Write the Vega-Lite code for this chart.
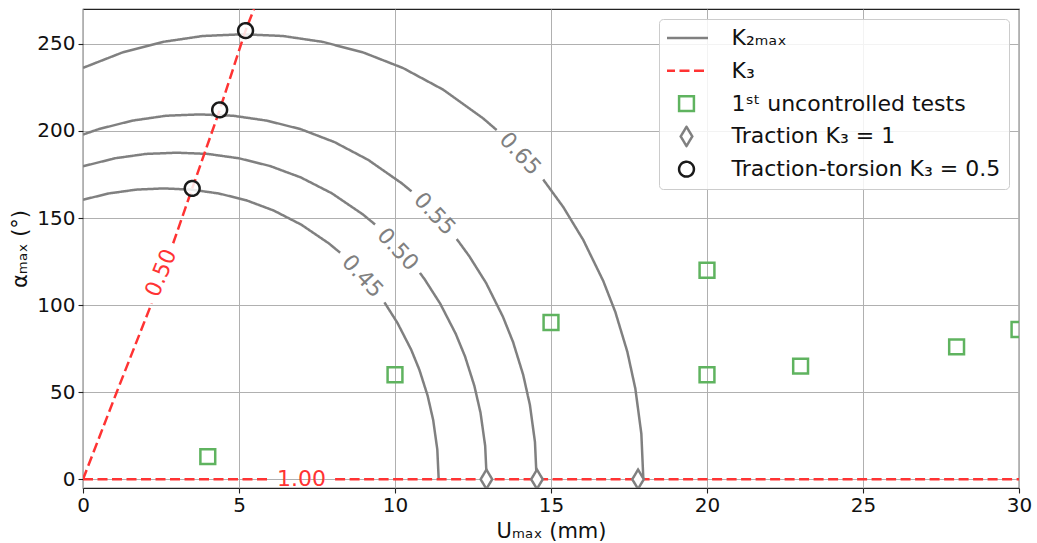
{
  "$schema": "https://vega.github.io/schema/vega-lite/v6.json",
  "width": 936,
  "height": 479,
  "autosize": {"type": "none"},
  "padding": {"left": 83, "top": 9, "right": 18, "bottom": 55},
  "background": "white",
  "config": {
    "font": "DejaVu Sans",
    "view": {"stroke": "#222222", "strokeWidth": 1.2},
    "axis": {
      "domain": false, "grid": true, "gridColor": "#b0b0b0", "gridWidth": 1,
      "tickColor": "#222222", "tickSize": 5, "tickWidth": 1.1,
      "labelFont": "DejaVu Sans", "labelFontSize": 20, "labelColor": "#111111",
      "titleFont": "DejaVu Sans", "titleFontSize": 21, "titleFontWeight": "normal", "titleColor": "#111111"
    },
    "legend": {
      "orient": "top-right", "offset": 10, "padding": 8,
      "labelFont": "DejaVu Sans", "labelFontSize": 22, "labelColor": "#111111", "labelLimit": 500,
      "symbolSize": 220, "symbolStrokeWidth": 2.5, "rowPadding": 10.8, "clipHeight": 22,
      "symbolOffset": 8.5, "labelOffset": 34,
      "fillColor": "rgba(255,255,255,0.85)", "strokeColor": "#cccccc", "cornerRadius": 4
    }
  },
  "datasets": {
    "k2": [
      {"series": "K₂ₘₐₓ", "seg": "0.45a", "U": 0, "a": 160.5},
      {"series": "K₂ₘₐₓ", "seg": "0.45a", "U": 0.824, "a": 164.1},
      {"series": "K₂ₘₐₓ", "seg": "0.45a", "U": 1.706, "a": 166.3},
      {"series": "K₂ₘₐₓ", "seg": "0.45a", "U": 2.587, "a": 167},
      {"series": "K₂ₘₐₓ", "seg": "0.45a", "U": 3.468, "a": 166.3},
      {"series": "K₂ₘₐₓ", "seg": "0.45a", "U": 4.35, "a": 164.1},
      {"series": "K₂ₘₐₓ", "seg": "0.45a", "U": 5.231, "a": 160.2},
      {"series": "K₂ₘₐₓ", "seg": "0.45a", "U": 6.112, "a": 154.3},
      {"series": "K₂ₘₐₓ", "seg": "0.45a", "U": 6.994, "a": 146.2},
      {"series": "K₂ₘₐₓ", "seg": "0.45a", "U": 7.875, "a": 135.5},
      {"series": "K₂ₘₐₓ", "seg": "0.45a", "U": 8.24, "a": 130.1},
      {"series": "K₂ₘₐₓ", "seg": "0.45b", "U": 9.66, "a": 101.6},
      {"series": "K₂ₘₐₓ", "seg": "0.45b", "U": 10.078, "a": 89.8},
      {"series": "K₂ₘₐₓ", "seg": "0.45b", "U": 10.519, "a": 74.4},
      {"series": "K₂ₘₐₓ", "seg": "0.45b", "U": 10.783, "a": 62.8},
      {"series": "K₂ₘₐₓ", "seg": "0.45b", "U": 11.047, "a": 47.9},
      {"series": "K₂ₘₐₓ", "seg": "0.45b", "U": 11.224, "a": 34.0},
      {"series": "K₂ₘₐₓ", "seg": "0.45b", "U": 11.356, "a": 17.1},
      {"series": "K₂ₘₐₓ", "seg": "0.45b", "U": 11.4, "a": 0},
      {"series": "K₂ₘₐₓ", "seg": "0.50a", "U": 0, "a": 179.7},
      {"series": "K₂ₘₐₓ", "seg": "0.50a", "U": 1.023, "a": 184.3},
      {"series": "K₂ₘₐₓ", "seg": "0.50a", "U": 2.016, "a": 186.8},
      {"series": "K₂ₘₐₓ", "seg": "0.50a", "U": 3.009, "a": 187.5},
      {"series": "K₂ₘₐₓ", "seg": "0.50a", "U": 4.002, "a": 186.8},
      {"series": "K₂ₘₐₓ", "seg": "0.50a", "U": 4.995, "a": 184.3},
      {"series": "K₂ₘₐₓ", "seg": "0.50a", "U": 5.988, "a": 179.9},
      {"series": "K₂ₘₐₓ", "seg": "0.50a", "U": 6.981, "a": 173.3},
      {"series": "K₂ₘₐₓ", "seg": "0.50a", "U": 7.975, "a": 164.2},
      {"series": "K₂ₘₐₓ", "seg": "0.50a", "U": 8.968, "a": 152.1},
      {"series": "K₂ₘₐₓ", "seg": "0.50a", "U": 9.36, "a": 146.3},
      {"series": "K₂ₘₐₓ", "seg": "0.50b", "U": 10.8, "a": 118.5},
      {"series": "K₂ₘₐₓ", "seg": "0.50b", "U": 10.954, "a": 114.7},
      {"series": "K₂ₘₐₓ", "seg": "0.50b", "U": 11.45, "a": 100.8},
      {"series": "K₂ₘₐₓ", "seg": "0.50b", "U": 11.947, "a": 83.5},
      {"series": "K₂ₘₐₓ", "seg": "0.50b", "U": 12.245, "a": 70.5},
      {"series": "K₂ₘₐₓ", "seg": "0.50b", "U": 12.543, "a": 53.7},
      {"series": "K₂ₘₐₓ", "seg": "0.50b", "U": 12.741, "a": 38.2},
      {"series": "K₂ₘₐₓ", "seg": "0.50b", "U": 12.89, "a": 19.2},
      {"series": "K₂ₘₐₓ", "seg": "0.50b", "U": 12.94, "a": 0},
      {"series": "K₂ₘₐₓ", "seg": "0.55a", "U": 0, "a": 197.9},
      {"series": "K₂ₘₐₓ", "seg": "0.55a", "U": 0.497, "a": 201.0},
      {"series": "K₂ₘₐₓ", "seg": "0.55a", "U": 1.578, "a": 205.9},
      {"series": "K₂ₘₐₓ", "seg": "0.55a", "U": 2.658, "a": 208.7},
      {"series": "K₂ₘₐₓ", "seg": "0.55a", "U": 3.738, "a": 209.5},
      {"series": "K₂ₘₐₓ", "seg": "0.55a", "U": 4.818, "a": 208.7},
      {"series": "K₂ₘₐₓ", "seg": "0.55a", "U": 5.898, "a": 205.9},
      {"series": "K₂ₘₐₓ", "seg": "0.55a", "U": 6.979, "a": 201.0},
      {"series": "K₂ₘₐₓ", "seg": "0.55a", "U": 8.059, "a": 193.6},
      {"series": "K₂ₘₐₓ", "seg": "0.55a", "U": 9.139, "a": 183.4},
      {"series": "K₂ₘₐₓ", "seg": "0.55a", "U": 10.219, "a": 169.9},
      {"series": "K₂ₘₐₓ", "seg": "0.55a", "U": 10.53, "a": 165.3},
      {"series": "K₂ₘₐₓ", "seg": "0.55b", "U": 11.98, "a": 137.9},
      {"series": "K₂ₘₐₓ", "seg": "0.55b", "U": 12.38, "a": 128.1},
      {"series": "K₂ₘₐₓ", "seg": "0.55b", "U": 12.92, "a": 112.7},
      {"series": "K₂ₘₐₓ", "seg": "0.55b", "U": 13.46, "a": 93.3},
      {"series": "K₂ₘₐₓ", "seg": "0.55b", "U": 13.784, "a": 78.8},
      {"series": "K₂ₘₐₓ", "seg": "0.55b", "U": 14.108, "a": 60.0},
      {"series": "K₂ₘₐₓ", "seg": "0.55b", "U": 14.324, "a": 42.7},
      {"series": "K₂ₘₐₓ", "seg": "0.55b", "U": 14.486, "a": 21.4},
      {"series": "K₂ₘₐₓ", "seg": "0.55b", "U": 14.54, "a": 0},
      {"series": "K₂ₘₐₓ", "seg": "0.65a", "U": 0, "a": 236.2},
      {"series": "K₂ₘₐₓ", "seg": "0.65a", "U": 1.272, "a": 245.1},
      {"series": "K₂ₘₐₓ", "seg": "0.65a", "U": 2.556, "a": 251.1},
      {"series": "K₂ₘₐₓ", "seg": "0.65a", "U": 3.839, "a": 254.5},
      {"series": "K₂ₘₐₓ", "seg": "0.65a", "U": 5.123, "a": 255.5},
      {"series": "K₂ₘₐₓ", "seg": "0.65a", "U": 6.407, "a": 254.5},
      {"series": "K₂ₘₐₓ", "seg": "0.65a", "U": 7.69, "a": 251.1},
      {"series": "K₂ₘₐₓ", "seg": "0.65a", "U": 8.974, "a": 245.1},
      {"series": "K₂ₘₐₓ", "seg": "0.65a", "U": 10.258, "a": 236.1},
      {"series": "K₂ₘₐₓ", "seg": "0.65a", "U": 11.542, "a": 223.7},
      {"series": "K₂ₘₐₓ", "seg": "0.65a", "U": 12.825, "a": 207.2},
      {"series": "K₂ₘₐₓ", "seg": "0.65a", "U": 13.26, "a": 200.5},
      {"series": "K₂ₘₐₓ", "seg": "0.65b", "U": 14.75, "a": 172.1},
      {"series": "K₂ₘₐₓ", "seg": "0.65b", "U": 15.393, "a": 156.3},
      {"series": "K₂ₘₐₓ", "seg": "0.65b", "U": 16.034, "a": 137.4},
      {"series": "K₂ₘₐₓ", "seg": "0.65b", "U": 16.676, "a": 113.8},
      {"series": "K₂ₘₐₓ", "seg": "0.65b", "U": 17.061, "a": 96.1},
      {"series": "K₂ₘₐₓ", "seg": "0.65b", "U": 17.447, "a": 73.2},
      {"series": "K₂ₘₐₓ", "seg": "0.65b", "U": 17.703, "a": 52.1},
      {"series": "K₂ₘₐₓ", "seg": "0.65b", "U": 17.896, "a": 26.1},
      {"series": "K₂ₘₐₓ", "seg": "0.65b", "U": 17.96, "a": 0}
    ],
    "k3": [
      {"series": "K₃", "seg": "r50a", "U": 0, "a": 0},
      {"series": "K₃", "seg": "r50a", "U": 1.08, "a": 50},
      {"series": "K₃", "seg": "r50a", "U": 2.2, "a": 101},
      {"series": "K₃", "seg": "r50b", "U": 2.89, "a": 135.5},
      {"series": "K₃", "seg": "r50b", "U": 3.5, "a": 167},
      {"series": "K₃", "seg": "r50b", "U": 4.38, "a": 212},
      {"series": "K₃", "seg": "r50b", "U": 5.21, "a": 257.6},
      {"series": "K₃", "seg": "r50b", "U": 5.48, "a": 270},
      {"series": "K₃", "seg": "r100a", "U": 0, "a": 0},
      {"series": "K₃", "seg": "r100a", "U": 5.94, "a": 0},
      {"series": "K₃", "seg": "r100b", "U": 8.08, "a": 0},
      {"series": "K₃", "seg": "r100b", "U": 30, "a": 0}
    ],
    "sq": [
      {"series": "1ˢᵗ uncontrolled tests", "U": 4, "a": 13},
      {"series": "1ˢᵗ uncontrolled tests", "U": 10, "a": 60},
      {"series": "1ˢᵗ uncontrolled tests", "U": 15, "a": 90},
      {"series": "1ˢᵗ uncontrolled tests", "U": 20, "a": 120},
      {"series": "1ˢᵗ uncontrolled tests", "U": 20, "a": 60},
      {"series": "1ˢᵗ uncontrolled tests", "U": 23, "a": 65},
      {"series": "1ˢᵗ uncontrolled tests", "U": 28, "a": 76},
      {"series": "1ˢᵗ uncontrolled tests", "U": 30, "a": 86}
    ],
    "dia": [
      {"series": "Traction K₃ = 1", "U": 12.93, "a": 0},
      {"series": "Traction K₃ = 1", "U": 14.55, "a": 0},
      {"series": "Traction K₃ = 1", "U": 17.79, "a": 0}
    ],
    "circ": [
      {"series": "Traction-torsion K₃ = 0.5", "U": 3.5, "a": 167},
      {"series": "Traction-torsion K₃ = 0.5", "U": 4.38, "a": 212.1},
      {"series": "Traction-torsion K₃ = 0.5", "U": 5.21, "a": 257.6}
    ],
    "k2lab": [
      {"label": "0.45", "U": 8.96, "a": 116.6},
      {"label": "0.50", "U": 10.09, "a": 132},
      {"label": "0.55", "U": 11.27, "a": 152.4},
      {"label": "0.65", "U": 14.01, "a": 186.9}
    ],
    "k3lab": [
      {"label": "0.50", "U": 2.5, "a": 118.5},
      {"label": "1.00", "U": 7.0, "a": 0}
    ]
  },
  "encoding": {
    "x": {"field": "U", "type": "quantitative",
      "scale": {"domain": [0, 30], "nice": false, "zero": false},
      "axis": {"values": [0, 5, 10, 15, 20, 25, 30], "title": "Uₘₐₓ (mm)", "labelFlush": false, "labelPadding": 2, "titlePadding": 5}},
    "y": {"field": "a", "type": "quantitative",
      "scale": {"domain": [-5, 270], "nice": false, "zero": false},
      "axis": {"values": [0, 50, 100, 150, 200, 250], "title": "αₘₐₓ (°)", "labelPadding": 3, "titlePadding": 6}}
  },
  "layer": [
    {
      "data": {"name": "k2"},
      "mark": {"type": "line", "strokeWidth": 2.5, "clip": true},
      "encoding": {
        "color": {"field": "series", "type": "nominal", "legend": {"title": null},
          "scale": {"domain": ["K₂ₘₐₓ", "K₃", "1ˢᵗ uncontrolled tests", "Traction K₃ = 1", "Traction-torsion K₃ = 0.5"],
                    "range": ["#808080", "#ff3333", "#5fb35f", "#808080", "#1a1a1a"]}},
        "strokeDash": {"field": "series", "type": "nominal", "legend": {"title": null},
          "scale": {"domain": ["K₂ₘₐₓ", "K₃", "1ˢᵗ uncontrolled tests", "Traction K₃ = 1", "Traction-torsion K₃ = 0.5"],
                    "range": [[1, 0], [10, 4.5], [1, 0], [1, 0], [1, 0]]}},
        "detail": {"field": "seg"}
      }
    },
    {
      "data": {"name": "k3"},
      "mark": {"type": "line", "strokeWidth": 2.5, "clip": true},
      "encoding": {
        "color": {"field": "series", "type": "nominal", "legend": {"title": null}},
        "strokeDash": {"field": "series", "type": "nominal", "legend": {"title": null}},
        "detail": {"field": "seg"}
      }
    },
    {
      "data": {"name": "k2lab"},
      "mark": {"type": "text", "angle": 47, "fontSize": 22, "color": "#808080", "align": "center", "baseline": "middle", "font": "DejaVu Sans"},
      "encoding": {"text": {"field": "label"}}
    },
    {
      "data": {"name": "k3lab"},
      "transform": [{"filter": "datum.label == '0.50'"}],
      "mark": {"type": "text", "angle": -68, "fontSize": 22, "color": "#ff3333", "align": "center", "baseline": "middle", "font": "DejaVu Sans"},
      "encoding": {"text": {"field": "label"}}
    },
    {
      "data": {"name": "k3lab"},
      "transform": [{"filter": "datum.label == '1.00'"}],
      "mark": {"type": "text", "angle": 0, "fontSize": 22, "color": "#ff3333", "align": "center", "baseline": "middle", "font": "DejaVu Sans"},
      "encoding": {"text": {"field": "label"}}
    },
    {
      "data": {"name": "sq"},
      "mark": {"type": "point", "filled": false, "size": 220, "strokeWidth": 2.5, "opacity": 1, "clip": true},
      "encoding": {
        "color": {"field": "series", "type": "nominal", "legend": {"title": null}},
        "shape": {"field": "series", "type": "nominal", "legend": {"title": null},
          "scale": {"domain": ["K₂ₘₐₓ", "K₃", "1ˢᵗ uncontrolled tests", "Traction K₃ = 1", "Traction-torsion K₃ = 0.5"],
                    "range": ["M-2.9,0H2.9", "M-2.9,0H2.9", "square", "M0,-1.3L0.78,0L0,1.3L-0.78,0Z", "circle"]}},
        "strokeDash": {"field": "series", "type": "nominal", "legend": {"title": null}}
      }
    },
    {
      "data": {"name": "dia"},
      "mark": {"type": "point", "filled": false, "fill": "white", "fillOpacity": 1, "size": 220, "strokeWidth": 2.5, "opacity": 1, "clip": true},
      "encoding": {
        "color": {"field": "series", "type": "nominal", "legend": {"title": null}},
        "shape": {"field": "series", "type": "nominal", "legend": {"title": null}},
        "strokeDash": {"field": "series", "type": "nominal", "legend": {"title": null}}
      }
    },
    {
      "data": {"name": "circ"},
      "mark": {"type": "point", "filled": false, "fill": "white", "fillOpacity": 0.85, "size": 220, "strokeWidth": 2.5, "opacity": 1, "clip": true},
      "encoding": {
        "color": {"field": "series", "type": "nominal", "legend": {"title": null}},
        "shape": {"field": "series", "type": "nominal", "legend": {"title": null}},
        "strokeDash": {"field": "series", "type": "nominal", "legend": {"title": null}}
      }
    }
  ]
}
